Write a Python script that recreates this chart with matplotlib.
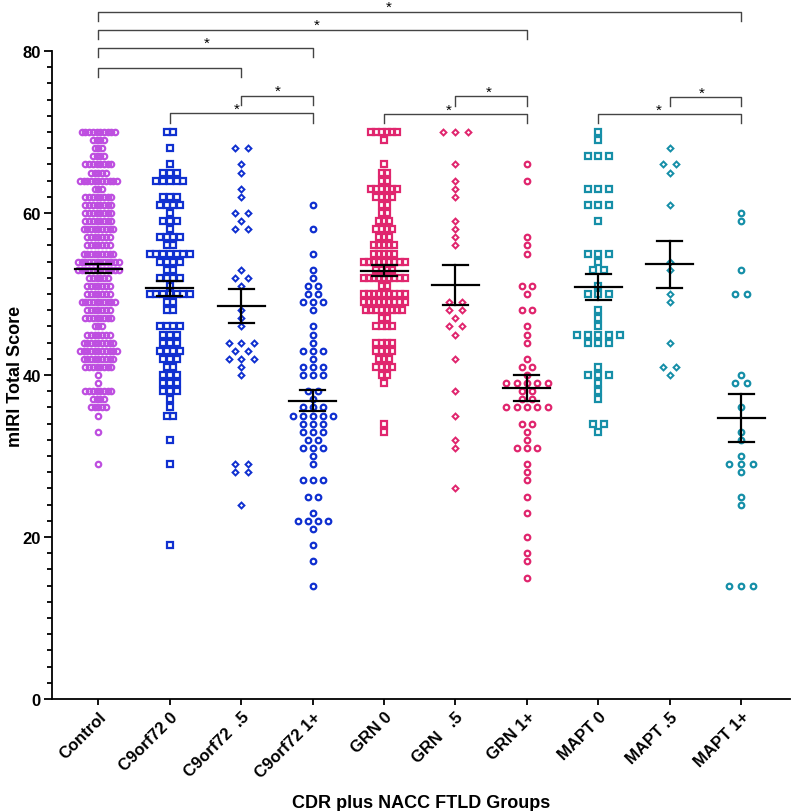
'''
mIRI total score by CDR plus NACC FTLD group
column scatter with mean +/- SEM and significance brackets
'''
import matplotlib
matplotlib.use('Agg')
import matplotlib.pyplot as plt
import numpy as np

plt.rcParams['font.family'] = ['Liberation Sans Narrow', 'Liberation Sans', 'DejaVu Sans']

# GROUP LABELS
groups = ['Control', 'C9orf72 0', 'C9orf72  .5', 'C9orf72 1+', 'GRN 0',
          'GRN   .5', 'GRN 1+', 'MAPT 0', 'MAPT .5', 'MAPT 1+']

# SCORES (value, number of subjects at that value)
ctrl_scores = [70, 69, 68, 67, 66, 65, 64, 63, 62, 61, 60, 59, 58, 57, 56, 55, 54, 53, 52,
               51, 50, 49, 48, 47, 46, 45, 44, 43, 42, 41, 40, 39, 38, 37, 36, 35, 33, 29]
ctrl_counts = [10, 4, 3, 4, 8, 5, 11, 3, 8, 8, 8, 8, 9, 7, 7, 9, 12, 12, 6,
               7, 7, 10, 7, 8, 3, 7, 9, 11, 9, 8, 1, 1, 8, 4, 5, 1, 1, 1]

c9_0_scores = [70, 68, 66, 65, 64, 62, 61, 60, 59, 58, 57, 56, 55, 54, 53, 52, 51, 50,
               49, 48, 46, 45, 44, 43, 42, 41, 40, 39, 38, 37, 36, 35, 32, 29, 19]
c9_0_counts = [2, 1, 1, 3, 5, 3, 4, 1, 3, 1, 4, 2, 7, 4, 2, 4, 1, 7,
               2, 2, 4, 3, 3, 4, 3, 2, 3, 3, 3, 1, 1, 2, 1, 1, 1]

c9_5_scores = [68, 66, 65, 63, 62, 60, 59, 58, 53, 52, 51, 48, 47, 46, 44, 43, 42, 41, 40, 29, 28, 24]
c9_5_counts = [2, 1, 1, 1, 1, 2, 1, 2, 1, 2, 1, 1, 1, 1, 3, 2, 3, 1, 1, 2, 2, 1]

c9_1_scores = [61, 58, 55, 53, 52, 51, 50, 49, 48, 46, 45, 44, 43, 42, 41, 40, 38,
               37, 36, 35, 34, 33, 32, 31, 30, 29, 27, 25, 23, 22, 21, 19, 17, 14]
c9_1_counts = [1, 1, 1, 1, 1, 2, 2, 3, 1, 1, 1, 1, 3, 1, 3, 3, 2,
               1, 3, 5, 3, 3, 2, 3, 1, 1, 3, 2, 1, 4, 1, 1, 1, 1]

grn0_scores = [70, 69, 66, 65, 64, 63, 62, 61, 60, 59, 58, 57, 56, 55, 54, 53,
               52, 51, 50, 49, 48, 47, 46, 44, 43, 42, 41, 40, 39, 34, 33]
grn0_counts = [6, 1, 1, 2, 2, 6, 4, 2, 2, 3, 4, 3, 5, 5, 9, 4,
               9, 2, 9, 9, 8, 2, 4, 4, 4, 3, 4, 2, 1, 1, 1]

grn5_scores = [70, 66, 64, 63, 62, 59, 58, 57, 56, 49, 48, 47, 46, 45, 42, 38, 35, 32, 31, 26]
grn5_counts = [3, 1, 1, 1, 1, 1, 1, 1, 1, 2, 2, 1, 2, 1, 1, 1, 1, 1, 1, 1]

grn1_scores = [66, 64, 57, 56, 55, 51, 50, 48, 46, 45, 44, 42, 41, 40, 39, 38,
               37, 36, 34, 33, 32, 31, 29, 28, 27, 25, 23, 20, 18, 17, 15]
grn1_counts = [1, 1, 1, 1, 1, 2, 1, 2, 1, 1, 1, 1, 2, 1, 5, 2,
               2, 5, 2, 1, 1, 3, 1, 1, 1, 1, 1, 1, 1, 1, 1]

mapt0_scores = [70, 69, 67, 63, 61, 59, 55, 54, 53, 51, 50, 48, 47, 46, 45, 44, 41, 40, 39, 38, 37, 34, 33]
mapt0_counts = [1, 1, 3, 3, 3, 1, 3, 1, 2, 1, 3, 1, 1, 1, 5, 3, 1, 3, 1, 1, 1, 2, 1]

mapt5_scores = [68, 66, 65, 61, 54, 53, 50, 49, 44, 41, 40]
mapt5_counts = [1, 2, 1, 1, 1, 1, 1, 1, 1, 2, 1]

mapt1_scores = [60, 59, 53, 50, 40, 39, 36, 33, 32, 30, 29, 28, 25, 24, 14]
mapt1_counts = [1, 1, 1, 2, 1, 2, 1, 1, 1, 1, 3, 1, 1, 1, 3]

# MEAN AND SEM as drawn
means = [53.1, 50.7, 48.5, 36.8, 52.9, 51.1, 38.4, 50.9, 53.7, 34.7]
sems = [0.55, 0.9, 2.1, 1.3, 0.65, 2.5, 1.6, 1.6, 2.9, 2.95]

# SIGNIFICANCE BRACKETS (left group, right group, bar level, star x or None)
brackets = [(0, 9, 84.8, 4.07), (0, 6, 82.6, 3.05), (0, 3, 80.4, 1.52), (0, 2, 77.9, None),
            (2, 3, 74.5, 2.51), (1, 3, 72.3, 1.94),
            (5, 6, 74.4, 5.47), (4, 6, 72.2, 4.90),
            (8, 9, 74.3, 8.45), (7, 9, 72.2, 7.84)]

# STYLE
violet = '#BE4FE0'
blue = '#1030D0'
pink = '#E0266E'
teal = '#168FA8'
colors = [violet, blue, blue, blue, pink, pink, pink, teal, teal, teal]
markers = ['o', 's', 'D', 'o', 's', 'D', 'o', 's', 'D', 'o']
msizes = [3.9, 3.8, 3.0, 4.0, 3.8, 3.0, 4.0, 3.8, 3.0, 4.0]
spacing = [0.052, 0.094, 0.178, 0.14, 0.072, 0.173, 0.145, 0.15, 0.178, 0.172]

all_scores = [ctrl_scores, c9_0_scores, c9_5_scores, c9_1_scores, grn0_scores,
              grn5_scores, grn1_scores, mapt0_scores, mapt5_scores, mapt1_scores]
all_counts = [ctrl_counts, c9_0_counts, c9_5_counts, c9_1_counts, grn0_counts,
              grn5_counts, grn1_counts, mapt0_counts, mapt5_counts, mapt1_counts]

fig = plt.figure(figsize=(7.92, 8.12), dpi=100)
ax = fig.add_axes([52 / 792, 112 / 812, 738 / 792, 648 / 812])

# POINTS: each score row spread sideways around the group position
for i in range(len(groups)):
    xs = []
    ys = []
    for s, n in zip(all_scores[i], all_counts[i]):
        off = (np.arange(n) - (n - 1) / 2) * spacing[i]
        xs.extend(i + off)
        ys.extend([s] * n)
    mew = 1.4 if markers[i] == 'D' else 1.6
    ax.plot(xs, ys, linestyle='none', marker=markers[i], ms=msizes[i],
            mfc='none', mec=colors[i], mew=mew, zorder=2)

# MEAN +/- SEM
for i in range(len(groups)):
    ax.plot([i - 0.33, i + 0.33], [means[i], means[i]], color='black', lw=1.6, zorder=4)
    ax.plot([i, i], [means[i] - sems[i], means[i] + sems[i]], color='black', lw=1.6, zorder=4)
    for e in (means[i] - sems[i], means[i] + sems[i]):
        ax.plot([i - 0.175, i + 0.175], [e, e], color='black', lw=1.6, zorder=4)

# BRACKETS
drop = 1.15
for a, b, lev, sx in brackets:
    ax.plot([a, a, b, b], [lev - drop, lev, lev, lev - drop], color='#444444',
            lw=1.0, clip_on=False, zorder=3)
    if sx is not None:
        ax.text(sx, lev + 0.6, '*', ha='center', va='center', fontsize=11, clip_on=False)

# AXES
ax.set_xlim(-0.651, 9.685)
ax.set_ylim(0, 80)
ax.set_yticks(np.arange(0, 81, 20))
ax.set_yticks(np.arange(0, 81, 2), minor=True)
ax.set_xticks(range(len(groups)))
ax.set_xticklabels(groups, rotation=45, ha='right', va='top', rotation_mode='anchor',
                   fontsize=12, fontweight='bold')
for lab in ax.get_yticklabels():
    lab.set_fontweight('bold')
    lab.set_fontsize(12)
ax.tick_params(axis='y', which='major', length=6, width=1.3, direction='out', pad=2)
ax.tick_params(axis='y', which='minor', length=3.5, width=1.3, direction='out')
ax.tick_params(axis='x', length=4, width=1.3, direction='out', pad=3)
ax.spines['top'].set_visible(False)
ax.spines['right'].set_visible(False)
ax.spines['left'].set_linewidth(1.3)
ax.spines['bottom'].set_linewidth(1.3)
ax.set_ylabel('mIRI Total Score', fontsize=13, fontweight='bold')
ax.yaxis.set_label_coords(-0.038, 0.5)
ax.set_xlabel('CDR plus NACC FTLD Groups', fontsize=13, fontweight='bold', labelpad=10)

fig.savefig('out.png', dpi=100)
